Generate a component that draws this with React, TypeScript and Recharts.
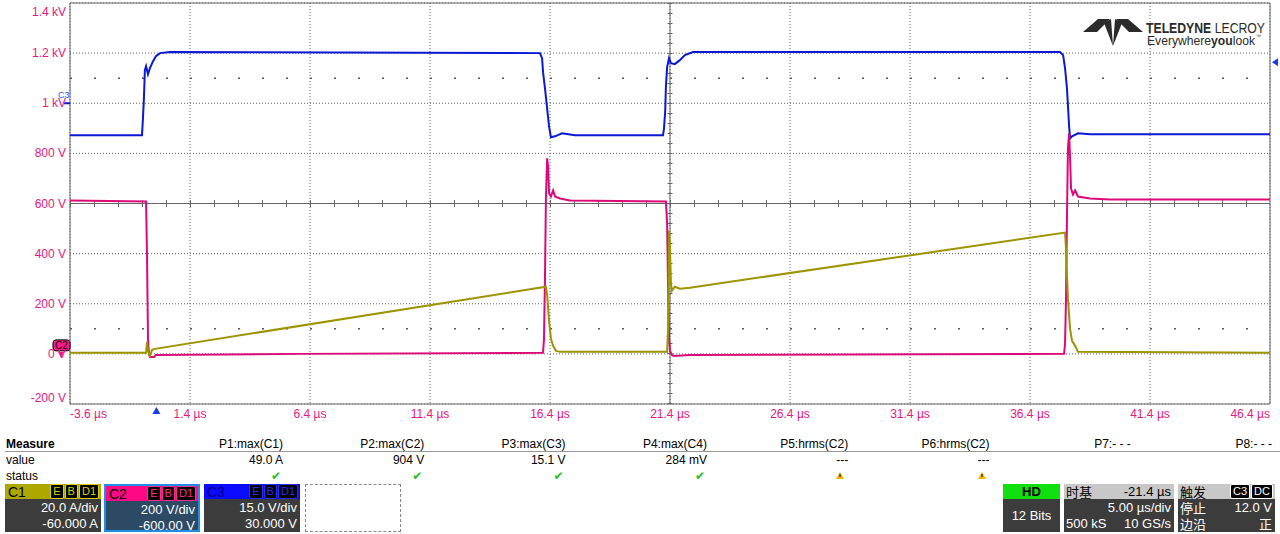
import {
  LineChart,
  Line,
  XAxis,
  YAxis,
  CartesianGrid,
  ReferenceLine,
  ReferenceDot,
  ReferenceArea,
} from "recharts";

// time axis in µs, values in the C2 display scale (V)
const xTicks = [-3.6, 1.4, 6.4, 11.4, 16.4, 21.4, 26.4, 31.4, 36.4, 41.4, 46.4];
const yTicks = [-200, 0, 200, 400, 600, 800, 1000, 1200, 1400];

// C3 (blue)
const c3Time = [-3.6, -0.6, -0.56, -0.52, -0.48, -0.43, -0.39, -0.35, -0.27, -0.14, -0.02, 0.15, 0.57, 15.98, 16.07, 16.11, 16.19, 16.28, 16.36, 16.44, 16.61, 16.9, 17.44, 21.11, 21.15, 21.2, 21.23, 21.28, 21.36, 21.44, 21.6, 21.81, 22.02, 22.36, 37.65, 37.78, 37.86, 37.94, 38.03, 38.07, 38.15, 38.4, 38.9, 46.4];
const c3Volts = [872, 872, 940, 1020, 1132, 1148, 1132, 1116, 1140, 1168, 1188, 1200, 1204, 1200, 1180, 1124, 1060, 980, 908, 864, 868, 880, 872, 872, 900, 968, 1068, 1144, 1180, 1160, 1156, 1172, 1192, 1204, 1204, 1192, 1140, 1060, 908, 860, 868, 880, 876, 876];

// C2 (magenta)
const c2Time = [-3.6, -0.43, -0.39, -0.35, -0.31, -0.27, -0.1, -0.02, 6.0, 16.11, 16.15, 16.19, 16.23, 16.28, 16.32, 16.36, 16.44, 16.53, 16.61, 16.82, 17.23, 21.23, 21.28, 21.32, 21.36, 21.4, 21.48, 21.57, 22.23, 37.82, 37.86, 37.9, 37.94, 37.98, 38.03, 38.07, 38.11, 38.19, 38.28, 38.4, 38.9, 39.73, 46.4];
const c2Volts = [612, 608, 380, 60, 0, -12, -12, -4, 0, 4, 60, 300, 620, 780, 748, 640, 628, 652, 628, 620, 612, 608, 520, 260, 60, 12, -4, -8, -4, 0, 40, 220, 540, 820, 880, 780, 660, 636, 652, 628, 620, 616, 616];

// C1 (yellow)
const c1Time = [-3.6, -0.43, -0.39, -0.35, -0.27, -0.18, -0.06, 16.23, 16.28, 16.36, 16.44, 16.53, 16.65, 16.82, 21.28, 21.32, 21.36, 21.4, 21.44, 21.48, 21.6, 21.81, 22.23, 37.86, 37.9, 37.98, 38.07, 38.15, 38.28, 38.4, 46.4];
const c1Volts = [4, 4, 48, 12, -8, 16, 20, 268, 236, 132, 60, 32, 12, 8, 8, 100, 492, 420, 280, 252, 268, 260, 264, 484, 420, 220, 100, 52, 32, 8, 4];

const measureLabels = ["P1:max(C1)", "P2:max(C2)", "P3:max(C3)", "P4:max(C4)", "P5:hrms(C2)", "P6:hrms(C2)", "P7:- - -", "P8:- - -"];
const measureValues = ["49.0 A", "904 V", "15.1 V", "284 mV", "---", "---", "", ""];
const measureStatus = ["ok", "ok", "ok", "ok", "warn", "warn", "", ""];

const pink = "#e8177f";
const font = "'Liberation Sans', Arial, sans-serif";
const cjk = "'Noto Sans CJK SC', 'Liberation Sans', sans-serif";

const pts = (ts: number[], vs: number[]) => ts.map((t, i) => ({ t, v: vs[i] }));

const yLabel = (v: number) => {
  if (v === 0) return "0 V";
  if (Math.abs(v) < 1000) return `${v} V`;
  return `${v / 1000} kV`;
};

const YTick = (props: any) => {
  const { y, payload } = props;
  let dy = 4;
  if (payload.value === 1400) dy = 13;
  if (payload.value === -200) dy = -2;
  return (
    <text x={66} y={y + dy} textAnchor="end" fill={pink} fontSize={12} fontFamily={font}>
      {yLabel(payload.value)}
    </text>
  );
};

const XTick = (props: any) => {
  const { x, payload } = props;
  let anchor = "middle";
  if (payload.value === xTicks[0]) anchor = "start";
  if (payload.value === xTicks[xTicks.length - 1]) anchor = "end";
  return (
    <text x={x} y={418} textAnchor={anchor} fill={pink} fontSize={12} fontFamily={font}>
      {`${payload.value.toFixed(1)} µs`}
    </text>
  );
};

function Badge({ text, bg, color }: { text: string; bg: string; color: string }) {
  return (
    <span
      style={{
        display: "inline-block",
        background: bg,
        color,
        borderRadius: 2,
        padding: "0 2px",
        marginLeft: 1,
        fontSize: 11,
        lineHeight: "13px",
        border: `1px solid ${color}`,
      }}
    >
      {text}
    </span>
  );
}

function ChannelBox(props: {
  left: number;
  name: string;
  head: string;
  headText: string;
  badgeText: string;
  body: string;
  l1: string;
  l2: string;
  border?: string;
}) {
  const { left, name, head, headText, badgeText, body, l1, l2, border } = props;
  return (
    <div
      style={{
        position: "absolute",
        left,
        top: 484,
        width: 96,
        height: 48,
        boxSizing: "border-box",
        border: border ? `2px solid ${border}` : "none",
        fontFamily: font,
      }}
    >
      <div
        style={{
          height: 15,
          background: head,
          display: "flex",
          justifyContent: "space-between",
          alignItems: "center",
          padding: "0 2px 0 3px",
          color: headText,
          fontSize: 14,
        }}
      >
        <span>{name}</span>
        <span style={{ display: "flex" }}>
          <Badge text="E" bg="#000" color={badgeText} />
          <Badge text="B" bg="#000" color={badgeText} />
          <Badge text="D1" bg="#000" color={badgeText} />
        </span>
      </div>
      <div
        style={{
          background: body,
          height: border ? 29 : 33,
          color: "#fff",
          fontSize: 13,
          textAlign: "right",
          padding: "1px 3px 0 0",
          lineHeight: "16px",
          boxSizing: "border-box",
        }}
      >
        <div>{l1}</div>
        <div>{l2}</div>
      </div>
    </div>
  );
}

export default function App() {
  return (
    <div
      style={{
        position: "absolute",
        left: 0,
        top: 0,
        width: 1280,
        height: 534,
        background: "#fff",
        overflow: "hidden",
        fontFamily: font,
      }}
    >
      <LineChart width={1280} height={430} margin={{ top: 3, right: 10, left: 0, bottom: 0 }}>
        <CartesianGrid stroke="#666" strokeDasharray="1 2" />
        <XAxis
          dataKey="t"
          type="number"
          domain={[-3.6, 46.4]}
          ticks={xTicks}
          allowDataOverflow
          height={26}
          axisLine={false}
          tickLine={false}
          tick={<XTick />}
          interval={0}
        />
        <YAxis
          type="number"
          domain={[-200, 1400]}
          ticks={yTicks}
          allowDataOverflow
          width={70}
          axisLine={false}
          tickLine={false}
          tick={<YTick />}
          interval={0}
        />
        <ReferenceLine y={1100} stroke="#555" strokeWidth={1.5} strokeDasharray="2 22" />
        <ReferenceLine y={100} stroke="#555" strokeWidth={1.5} strokeDasharray="2 22" />
        <ReferenceLine y={600} stroke="#666" strokeWidth={1} />
        <ReferenceLine y={600} stroke="#666" strokeWidth={7} strokeDasharray="1 23" />
        <ReferenceLine x={21.4} stroke="#666" strokeWidth={1} />
        <ReferenceLine x={21.4} stroke="#666" strokeWidth={5} strokeDasharray="1 9" />
        <ReferenceArea x1={-3.6} x2={46.4} y1={-200} y2={1400} fill="none" stroke="#666" strokeWidth={1} />
        <Line
          data={pts(c3Time, c3Volts)}
          dataKey="v"
          type="linear"
          stroke="#0b18d4"
          strokeWidth={2}
          dot={false}
          isAnimationActive={false}
        />
        <Line
          data={pts(c2Time, c2Volts)}
          dataKey="v"
          type="linear"
          stroke="#dc0a78"
          strokeWidth={2}
          dot={false}
          isAnimationActive={false}
        />
        <Line
          data={pts(c1Time, c1Volts)}
          dataKey="v"
          type="linear"
          stroke="#9c9400"
          strokeWidth={2}
          dot={false}
          isAnimationActive={false}
        />
        <ReferenceDot
          x={0}
          y={-200}
          r={0}
          shape={(p: any) => (
            <polygon
              points={`${p.cx},${p.cy + 3} ${p.cx - 4},${p.cy + 10} ${p.cx + 4},${p.cy + 10}`}
              fill="#1a3ce8"
            />
          )}
        />
        <ReferenceDot
          x={46.4}
          y={1164}
          r={0}
          shape={(p: any) => (
            <polygon
              points={`${p.cx + 2},${p.cy} ${p.cx + 8},${p.cy - 4} ${p.cx + 8},${p.cy + 4}`}
              fill="#1a3ce8"
            />
          )}
        />
        <ReferenceDot
          x={-3.6}
          y={1000}
          r={0}
          shape={(p: any) => (
            <g>
              <line x1={p.cx - 6} y1={p.cy} x2={p.cx} y2={p.cy} stroke="#0b18d4" strokeWidth={2} />
              <text x={p.cx - 12} y={p.cy - 5} fontSize={9} fill="#3355ff" fontFamily={font}>
                C3
              </text>
            </g>
          )}
        />
        <ReferenceDot
          x={-3.6}
          y={0}
          r={0}
          shape={(p: any) => (
            <g>
              <polygon
                points={`${p.cx - 12},${p.cy - 2} ${p.cx - 6},${p.cy - 2} ${p.cx - 9},${p.cy + 4}`}
                fill="#ff1a8c"
              />
              <rect
                x={p.cx - 17}
                y={p.cy - 14}
                width={17}
                height={11}
                rx={3}
                fill="#ff1a8c"
                stroke="#000"
                strokeWidth={1}
              />
              <text x={p.cx - 15} y={p.cy - 5} fontSize={10} fill="#000" fontFamily={font}>
                C2
              </text>
            </g>
          )}
        />
      </LineChart>

      {/* logo */}
      <svg style={{ position: "absolute", left: 1080, top: 15 }} width={195} height={34}>
        <polygon points="3,17 18,4 30,4 17,17" fill="#2b2b2b" />
        <polygon points="24,8 31,4 33,31" fill="#2b2b2b" />
        <polygon points="35,4 42,8 33,31" fill="#2b2b2b" />
        <polygon points="36,4 48,4 63,17 49,17" fill="#2b2b2b" />
        <text x={66} y={18} fontSize={15} fill="#2b2b2b" fontFamily={font} textLength={119} lengthAdjust="spacingAndGlyphs">
          <tspan fontWeight="bold">TELEDYNE</tspan> LECROY
        </text>
        <text x={67} y={30} fontSize={12} fill="#2b2b2b" fontFamily={font} textLength={108} lengthAdjust="spacingAndGlyphs">
          Everywhere<tspan fontWeight="bold">you</tspan>look
        </text>
        <text x={176} y={23} fontSize={5} fill="#2b2b2b" fontFamily={font}>
          ™
        </text>
      </svg>

      {/* measure table */}
      <div style={{ position: "absolute", left: 6, top: 437, fontSize: 12, fontWeight: "bold", lineHeight: "14px" }}>
        Measure
      </div>
      <div style={{ position: "absolute", left: 6, top: 453, fontSize: 12, lineHeight: "14px" }}>value</div>
      <div style={{ position: "absolute", left: 6, top: 469, fontSize: 12, lineHeight: "14px" }}>status</div>
      <div style={{ position: "absolute", left: 5, top: 451, width: 1275, height: 1, background: "#999" }} />
      {measureLabels.map((m, i) => {
        const right = 283 + i * 141.3;
        return (
          <div key={m + i}>
            <div
              style={{
                position: "absolute",
                left: right - 130,
                width: 130,
                top: 437,
                textAlign: "right",
                fontSize: 12,
                lineHeight: "14px",
              }}
            >
              {m}
            </div>
            <div
              style={{
                position: "absolute",
                left: right - 130,
                width: 130,
                top: 453,
                textAlign: "right",
                fontSize: 12,
                lineHeight: "14px",
              }}
            >
              {measureValues[i]}
            </div>
            {measureStatus[i] === "ok" && (
              <div
                style={{
                  position: "absolute",
                  left: right - 12,
                  top: 469,
                  fontSize: 12,
                  lineHeight: "14px",
                  color: "#22c01e",
                  fontFamily: "'DejaVu Sans', sans-serif",
                }}
              >
                ✔
              </div>
            )}
            {measureStatus[i] === "warn" && (
              <svg style={{ position: "absolute", left: right - 12, top: 472 }} width={8} height={8}>
                <polygon points="4,0 8,7 0,7" fill="#f0b400" />
                <rect x={3.5} y={2} width={1} height={3} fill="#000" />
              </svg>
            )}
          </div>
        );
      })}

      {/* channel boxes */}
      <ChannelBox
        left={5}
        name="C1"
        head="#aca800"
        headText="#000"
        badgeText="#d8d000"
        body="#3c3c3c"
        l1="20.0 A/div"
        l2="-60.000 A"
      />
      <ChannelBox
        left={104}
        name="C2"
        head="#ff0a84"
        headText="#000"
        badgeText="#ff2a94"
        body="#2c4a64"
        l1="200 V/div"
        l2="-600.00 V"
        border="#1e8ee8"
      />
      <ChannelBox
        left={204}
        name="C3"
        head="#0a0aff"
        headText="#00008a"
        badgeText="#2a2aff"
        body="#3c3c3c"
        l1="15.0 V/div"
        l2="30.000 V"
      />
      <div
        style={{
          position: "absolute",
          left: 305,
          top: 484,
          width: 96,
          height: 48,
          boxSizing: "border-box",
          border: "1px dashed #888",
        }}
      />

      {/* HD box */}
      <div style={{ position: "absolute", left: 1003, top: 484, width: 57, height: 48 }}>
        <div
          style={{
            height: 15,
            background: "#10e010",
            textAlign: "center",
            fontWeight: "bold",
            fontSize: 13,
            lineHeight: "15px",
          }}
        >
          HD
        </div>
        <div
          style={{
            height: 33,
            background: "#3c3c3c",
            color: "#fff",
            textAlign: "center",
            fontSize: 13,
            lineHeight: "33px",
          }}
        >
          12 Bits
        </div>
      </div>

      {/* timebase box */}
      <div style={{ position: "absolute", left: 1064, top: 484, width: 110, height: 48 }}>
        <div
          style={{
            height: 15,
            background: "#c8c8c8",
            display: "flex",
            justifyContent: "space-between",
            padding: "0 3px 0 2px",
            fontSize: 13,
            lineHeight: "15px",
          }}
        >
          <span style={{ fontFamily: cjk, fontSize: 13 }}>时基</span>
          <span>-21.4 µs</span>
        </div>
        <div
          style={{
            height: 33,
            background: "#3c3c3c",
            color: "#fff",
            fontSize: 13,
            lineHeight: "16px",
            padding: "1px 3px 0 2px",
            boxSizing: "border-box",
          }}
        >
          <div style={{ textAlign: "right" }}>5.00 µs/div</div>
          <div style={{ display: "flex", justifyContent: "space-between" }}>
            <span>500 kS</span>
            <span>10 GS/s</span>
          </div>
        </div>
      </div>

      {/* trigger box */}
      <div style={{ position: "absolute", left: 1178, top: 484, width: 97, height: 48 }}>
        <div
          style={{
            height: 15,
            background: "#c8c8c8",
            display: "flex",
            justifyContent: "space-between",
            padding: "0 2px 0 2px",
            fontSize: 13,
            lineHeight: "15px",
          }}
        >
          <span style={{ fontFamily: cjk }}>触发</span>
          <span style={{ display: "flex" }}>
            <Badge text="C3" bg="#000" color="#fff" />
            <Badge text="DC" bg="#000" color="#fff" />
          </span>
        </div>
        <div
          style={{
            height: 33,
            background: "#3c3c3c",
            color: "#fff",
            fontSize: 13,
            lineHeight: "16px",
            padding: "1px 3px 0 2px",
            boxSizing: "border-box",
          }}
        >
          <div style={{ display: "flex", justifyContent: "space-between" }}>
            <span style={{ fontFamily: cjk }}>停止</span>
            <span>12.0 V</span>
          </div>
          <div style={{ display: "flex", justifyContent: "space-between" }}>
            <span style={{ fontFamily: cjk }}>边沿</span>
            <span style={{ fontFamily: cjk }}>正</span>
          </div>
        </div>
      </div>
    </div>
  );
}
